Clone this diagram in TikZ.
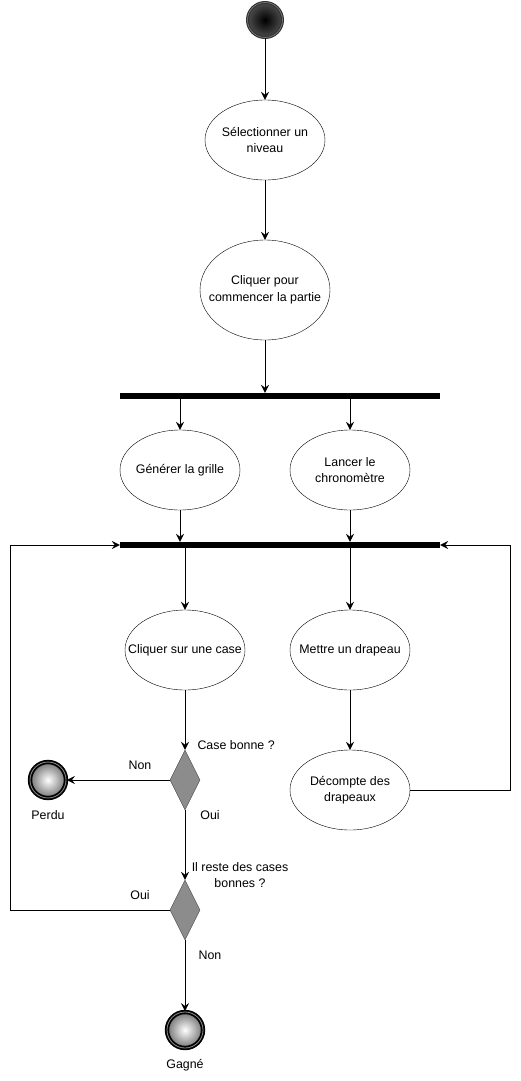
\documentclass[tikz,border=0pt]{standalone}
\usepackage{fontspec}
\setmainfont{Liberation Sans}
\usetikzlibrary{shapes.geometric,arrows.meta}

\tikzset{
  activity/.style={draw, ellipse, minimum width=120pt, minimum height=80pt,
    inner xsep=-20pt, inner ysep=0pt, align=center,
    font=\fontsize{12.4}{16.5}\selectfont},
  forkbar/.style={fill=black, minimum width=320pt, minimum height=6pt, inner sep=0pt},
  choice/.style={diamond, draw=black!70, fill=black!45, minimum width=30pt,
    minimum height=60pt, inner sep=0pt},
  initstate/.style={circle, minimum size=35pt, inner sep=0pt, inner color=black,
    outer color=black!70, draw=black!80, line width=1.2pt, double=black!50,
    double distance=0.6pt},
  finalstate/.style={circle, minimum size=36pt, inner sep=0pt, inner color=white,
    outer color=black!55, draw=black, line width=1.8pt, double=black!45,
    double distance=0.8pt},
  lbl/.style={align=center, font=\fontsize{12.4}{16.5}\selectfont},
  flow/.style={-{Stealth[length=8pt,width=8pt,inset=3pt]}},
}

\begin{document}
\begin{tikzpicture}[x=1pt, y=-1pt]

  \useasboundingbox (0,0) rectangle (520,1081);

  \newcommand\XL{180}
  \newcommand\XR{350}

  %% nodes
  \node[initstate] (start) at (265,20) {};
  \node[activity] (select) at (265,140) {Sélectionner un\\niveau};
  \node[activity, minimum width=130pt, minimum height=100pt] (begin) at (265,290)
    {Cliquer pour\\commencer la partie};
  \node[forkbar] (bar1) at (280,396) {};
  \node[activity] (grid) at (\XL,470) {Générer la grille};
  \node[activity] (timer) at (\XR,470) {Lancer le\\chronomètre};
  \node[forkbar] (bar2) at (280,545) {};
  \node[activity] (click) at (185,650) {Cliquer sur une case};
  \node[activity] (flag) at (\XR,650) {Mettre un drapeau};
  \node[activity] (count) at (\XR,790) {Décompte des\\drapeaux};
  \node[choice] (good) at (185,780) {};
  \node[choice] (left) at (185,910) {};
  \node[finalstate] (lost) at (48,780) {};
  \node[finalstate] (won) at (185,1030) {};

  \coordinate (loopL) at (10,910);
  \coordinate (loopR) at (510,790);

  %% connectors
  \draw[flow] (start) -- (select);
  \draw[flow] (select) -- (begin);
  \draw[flow] (begin) -- (begin |- bar1.north);
  \draw[flow] (grid |- bar1.south) -- (grid);
  \draw[flow] (timer |- bar1.south) -- (timer);
  \draw[flow] (grid) -- (grid |- bar2.north);
  \draw[flow] (timer) -- (timer |- bar2.north);
  \draw[flow] (bar2.south -| click) -- (click);
  \draw[flow] (timer |- bar2.south) -- (flag);
  \draw[flow] (flag) -- (count);
  \draw[flow] (click) -- (good);
  \draw[flow] (good) -- (lost); %% Non
  \draw[flow] (good) -- (left); %% Oui
  \draw[flow] (left) -- (won); %% Non
  \draw[flow] (left.west) -- (loopL) |- (bar2.west); %% Oui
  \draw[flow] (count.east) -- (loopR) |- (bar2.east);

  %% labels
  \node[lbl, anchor=west] (qgood) at (194,745) {Case bonne ?};
  \node[lbl] (nonA) at (140,765) {Non};
  \node[lbl] (ouiA) at (210,815) {Oui};
  \node[lbl] (perdu) at (48,815) {Perdu};
  \node[lbl] (qleft) at (240,875) {Il reste des cases\\bonnes ?};
  \node[lbl] (ouiB) at (140,895) {Oui};
  \node[lbl] (nonB) at (210,955) {Non};
  \node[lbl] (gagne) at (185,1065) {Gagné};

\end{tikzpicture}
\end{document}
